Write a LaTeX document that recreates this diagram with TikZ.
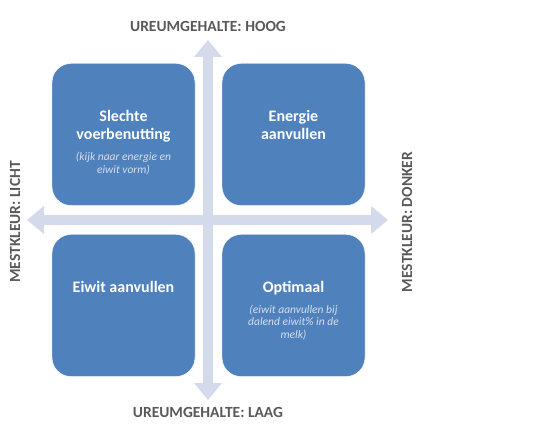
\documentclass[tikz,border=0pt]{standalone}
\usepackage{fontspec}
\setmainfont{Carlito}
\usetikzlibrary{positioning,arrows.meta}
\definecolor{vakblauw}{HTML}{4F81BD}
\definecolor{asgrijs}{HTML}{D3DAEA}
\definecolor{labelgrijs}{HTML}{595959}
\definecolor{subwit}{HTML}{D5DEEE}
\tikzset{
  vak/.style={fill=vakblauw,draw=white,rounded corners=19pt,minimum width=143pt,minimum height=142pt,inner sep=0},
  titel/.style={text=white,font=\bfseries\fontsize{16}{18}\selectfont,align=center,inner sep=0},
  toelichting/.style={text=subwit,font=\itshape\fontsize{11.5}{12.8}\selectfont,align=center,inner sep=0},
  as/.style={asgrijs,line width=10pt,{Triangle[length=17pt,width=27pt]}-{Triangle[length=17pt,width=27pt]}},
  aslabel/.style={text=labelgrijs,font=\bfseries\fontsize{15.5}{17}\selectfont,inner sep=0}
}
\begin{document}
\begin{tikzpicture}[x=1pt,y=-1pt]
\useasboundingbox (0,0) rectangle (542,427);

% assen
\coordinate (boven) at (208,40);
\coordinate (onder) at (208,400);
\coordinate (links) at (27,220);
\coordinate (rechts) at (388,220);
\draw[as] (onder) -- (boven);
\draw[as] (links) -- (rechts);

% vier vakken
\node[vak] (lb) at (123.5,134.5) {};
\node[vak] (rb) at (293.5,134.5) {};
\node[vak] (lo) at (123.5,305.5) {};
\node[vak] (ro) at (293.5,305.5) {};

\node[titel,below=47pt of lb.north] (slecht) {Slechte\\voerbenutting};
\node[toelichting,below=9pt of slecht] (slechtsub) {(kijk naar energie en\\eiwit vorm)};
\node[titel,below=47pt of rb.north] (energie) {Energie\\aanvullen};
\node[titel,below=47pt of lo.north] (eiwit) {Eiwit aanvullen};
\node[titel,below=47pt of ro.north] (optimaal) {Optimaal};
\node[toelichting,below=9pt of optimaal] (optimaalsub) {(eiwit aanvullen bij\\dalend eiwit\% in de\\melk)};

% labels bij de assen
\node[aslabel] (hoog) at (208,26.5) {UREUMGEHALTE: HOOG};
\node[aslabel] (laag) at (208,412) {UREUMGEHALTE: LAAG};
\node[aslabel,rotate=90] (licht) at (15,222) {MESTKLEUR: LICHT};
\node[aslabel,rotate=90] (donker) at (407,222) {MESTKLEUR: DONKER};
\end{tikzpicture}
\end{document}
